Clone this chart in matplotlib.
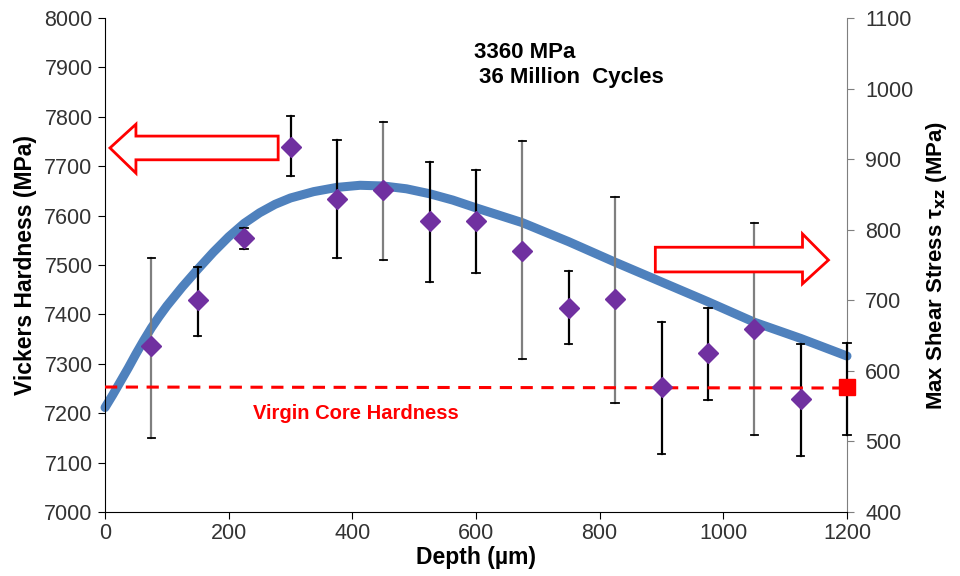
import matplotlib
matplotlib.use("Agg")
from matplotlib import pyplot as plt
from matplotlib.patches import Polygon

plt.rcParams['font.family'] = ['Liberation Sans', 'DejaVu Sans']

# hardness measurements (left axis)
depth = [75, 150, 225, 300, 375, 450, 525, 600, 675, 750, 825, 900, 975, 1050, 1125]
hardness = [7336, 7429, 7555, 7739, 7633, 7652, 7589, 7589, 7528, 7413, 7431, 7253, 7322, 7370, 7229]
err_hi = [7514, 7496, 7575, 7802, 7754, 7789, 7709, 7692, 7751, 7488, 7638, 7385, 7413, 7585, 7340]
err_lo = [7150, 7356, 7532, 7680, 7514, 7510, 7466, 7484, 7310, 7340, 7221, 7117, 7227, 7156, 7113]
gray_bar = [True, False, False, False, False, True, False, False, True, False, True, False, False, True, False]

# virgin core point
core_x = [1200]
core_h = [7253]
core_hi = [7342]
core_lo = [7156]
core_line_x = [0, 1200]
core_line_y = [7253, 7251]

# shear stress curve (right axis)
stress_x = [0, 12.5, 25, 37.5, 50, 62.5, 75, 87.5, 100, 125, 150, 175, 200, 225, 250, 275, 300,
            337.5, 375, 412.5, 450, 487.5, 525, 562.5, 600, 675, 750, 825, 900, 975, 1050, 1125, 1200]
stress_y = [548, 566, 585, 604, 624, 643, 661, 677, 692, 719, 744, 768, 790, 809, 824, 836, 845,
            854, 860, 863, 862, 858, 851, 842, 831, 810, 783, 754, 726, 698, 669, 646, 621]

fig = plt.figure(figsize=(9.6, 5.76), dpi=100)
ax = fig.add_axes([0.1094, 0.1111, 0.7729, 0.8576])
ax2 = ax.twinx()

ax.set_xlim(0, 1200)
ax.set_ylim(7000, 8000)
ax2.set_ylim(400, 1100)
ax.set_xticks(range(0, 1201, 200))
ax.set_yticks(range(7000, 8001, 100))
ax2.set_yticks(range(400, 1101, 100))

# error bars, some drawn grey
for x, h, hi, lo, g in zip(depth, hardness, err_hi, err_lo, gray_bar):
    c = '#7f7f7f' if g else 'black'
    ax.plot([x, x], [lo, hi], color=c, lw=1.6, zorder=2)
    ax.plot([x - 6, x + 6], [hi, hi], color='black', lw=1.3, zorder=2)
    ax.plot([x - 6, x + 6], [lo, lo], color='black', lw=1.3, zorder=2)
for x, hi, lo in zip(core_x, core_hi, core_lo):
    ax.plot([x, x], [lo, hi], color='black', lw=1.6, zorder=2, clip_on=False)
    ax.plot([x - 6, x + 6], [hi, hi], color='black', lw=1.3, zorder=2, clip_on=False)
    ax.plot([x - 6, x + 6], [lo, lo], color='black', lw=1.3, zorder=2, clip_on=False)

ax.plot(depth, hardness, ls='none', marker='D', ms=10, color='#7030a0', zorder=4)
ax.plot(core_line_x, core_line_y, color='#ff0000', lw=2.2, ls=(0, (4, 2.8)), zorder=3)
ax.plot(core_x, core_h, ls='none', marker='s', ms=11, color='#ff0000', zorder=5, clip_on=False)

ax2.plot(stress_x, stress_y, color='#4f81bd', lw=6.5, solid_capstyle='round',
         solid_joinstyle='round', zorder=3, clip_on=False)
ax.set_zorder(ax2.get_zorder() + 1)
ax.patch.set_visible(False)

# hollow arrows
left_arrow = [(8, 7737), (50, 7785), (50, 7761), (280, 7761), (280, 7713), (50, 7713), (50, 7686)]
right_arrow = [(1170, 7510), (1128, 7563), (1128, 7536), (890, 7536), (890, 7486), (1128, 7486), (1128, 7462)]
for pts in (left_arrow, right_arrow):
    ax.add_patch(Polygon(pts, closed=True, facecolor='white', edgecolor='#ff0000', lw=2, zorder=6))

ax.text(406, 7200, 'Virgin Core Hardness', color='#ff0000', fontsize=14.5, fontweight='bold',
        ha='center', va='center')
ax.text(0.566, 0.931, '3360 MPa', transform=ax.transAxes, fontsize=16, fontweight='bold',
        ha='center', va='center')
ax.text(0.629, 0.879, '36 Million  Cycles', transform=ax.transAxes, fontsize=16, fontweight='bold',
        ha='center', va='center')

ax.set_xlabel('Depth (µm)', fontsize=16.5, fontweight='bold', labelpad=1)
ax.set_ylabel('Vickers Hardness (MPa)', fontsize=16.5, fontweight='bold', labelpad=5)
ax2.set_ylabel('Max Shear Stress τ$_{\\mathbf{xz}}$ (MPa)', fontsize=16, fontweight='bold', labelpad=8)

ax.spines['top'].set_visible(False)
ax2.spines['top'].set_visible(False)
ax.spines['right'].set_visible(False)
ax2.spines['left'].set_visible(False)
ax2.spines['bottom'].set_visible(False)
ax2.spines['right'].set_color('#7f7f7f')
ax.tick_params(axis='y', direction='out', length=5, labelsize=15.5, labelcolor='#333333', pad=4)
ax.tick_params(axis='x', direction='out', length=5, labelsize=15.5, labelcolor='#333333', pad=3)
ax2.tick_params(axis='y', direction='out', length=5, color='#7f7f7f', labelsize=15.5,
                labelcolor='#333333', pad=8)

fig.savefig('out.png', dpi=100)
